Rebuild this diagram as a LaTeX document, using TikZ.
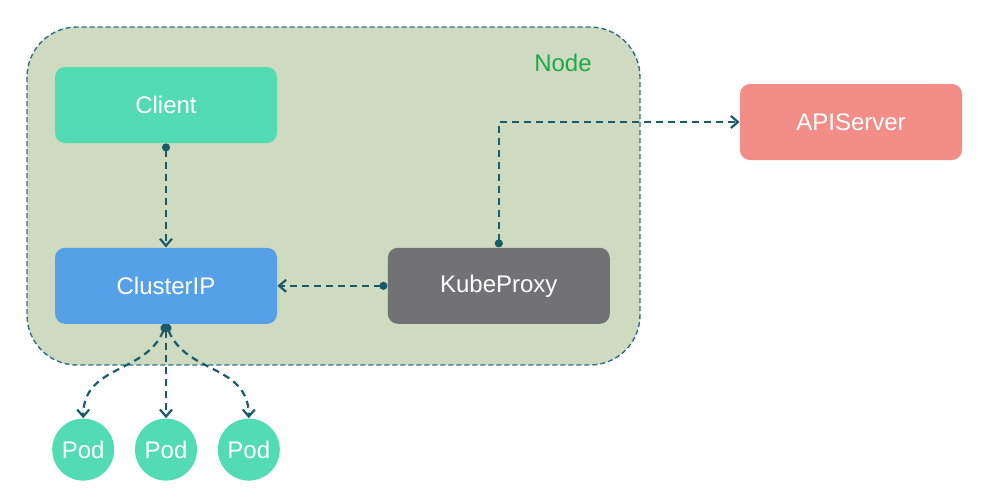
\documentclass[tikz,border=0pt]{standalone}
\usepackage{fontspec}
\setmainfont{Liberation Sans}
\usepackage{tikz}
\usetikzlibrary{arrows.meta,positioning}

\definecolor{clientgreen}{RGB}{83,219,180}
\definecolor{clusterblue}{RGB}{85,160,230}
\definecolor{proxygrey}{RGB}{114,113,115}
\definecolor{apired}{RGB}{242,142,135}
\definecolor{hostfill}{RGB}{207,219,192}
\definecolor{hostborder}{RGB}{46,110,134}
\definecolor{nodegreen}{RGB}{30,168,75}
\definecolor{linkteal}{RGB}{27,90,102}

\tikzset{
  box/.style={rectangle, rounded corners=5pt, minimum width=111pt,
              minimum height=38pt, text=white,
              font=\fontsize{12}{14}\selectfont},
  pod/.style={circle, fill=clientgreen, minimum size=31pt, inner sep=0pt,
              text=white, font=\fontsize{12}{14}\selectfont},
  link/.style={draw=linkteal, line width=1.1pt,
               dash pattern=on 3.5pt off 2.5pt,
               {Circle[length=4pt]}-{Straight Barb[length=3.5pt,width=6pt]}}
}

\begin{document}
\begin{tikzpicture}[x=0.5pt,y=-0.5pt]
  \useasboundingbox (0,0) rectangle (981,499);

  % the node
  \draw[fill=hostfill, draw=hostborder, line width=0.7pt,
        dash pattern=on 2.5pt off 1.5pt, rounded corners=25pt]
        (27,27) rectangle (640,365);
  \node[text=nodegreen, font=\fontsize{12}{14}\selectfont] (nodelabel) at (563,63) {Node};

  \node[box, fill=clientgreen]                  (client)    at (166,105) {Client};
  \node[box, fill=clusterblue, below=52pt of client]     (clusterip) {ClusterIP};
  \node[box, fill=proxygrey,   right=55pt of clusterip]  (kubeproxy) {KubeProxy};
  \node[box, fill=apired]                       (apiserver) at (851,122) {APIServer};

  \node[pod, below=47pt of clusterip] (pod2) {Pod};
  \node[pod, left=10pt of pod2]       (pod1) {Pod};
  \node[pod, right=10pt of pod2]      (pod3) {Pod};

  \draw[link] (client.south)   -- (clusterip.north);
  \draw[link] (kubeproxy.west) -- (clusterip.east);
  \draw[link] (kubeproxy.north) |- (apiserver.west);
  \draw[link] (clusterip.south) to[out=-112,in=90,looseness=1.1] (pod1.north);
  \draw[link] (clusterip.south) -- (pod2.north);
  \draw[link] (clusterip.south) to[out=-68,in=90,looseness=1.1] (pod3.north);
\end{tikzpicture}
\end{document}
